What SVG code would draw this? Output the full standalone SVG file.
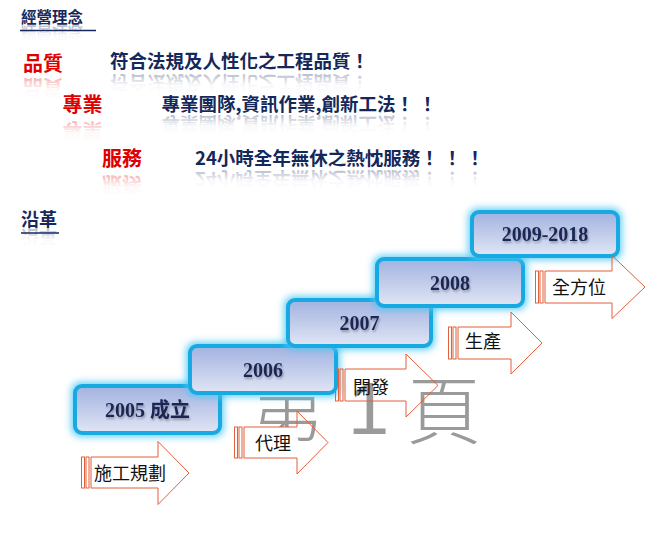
<svg xmlns="http://www.w3.org/2000/svg" width="666" height="533" viewBox="0 0 666 533">
<style>
.h{font-family:"Noto Sans CJK TC","Noto Sans CJK SC",sans-serif;font-weight:700;fill:#16285c}
.r{font-family:"Noto Sans CJK TC","Noto Sans CJK SC",sans-serif;font-weight:700;font-size:20px;fill:#e00000}
.n{font-family:"Noto Sans CJK TC","Noto Sans CJK SC",sans-serif;font-weight:700;font-size:18.5px;fill:#14285a}
.rr{font-family:"Noto Sans CJK TC","Noto Sans CJK SC",sans-serif;font-weight:700;font-size:20px;fill:url(#fadeR)}
.nr{font-family:"Noto Sans CJK TC","Noto Sans CJK SC",sans-serif;font-weight:700;font-size:18.5px;fill:url(#fadeN)}
.box{fill:url(#boxg);stroke:#18a9e2;stroke-width:4}
.bt{font-family:"Liberation Serif","Noto Sans CJK TC",serif;font-size:20px;font-weight:700;fill:#1b2655;text-anchor:middle}
.arr{fill:none;stroke:#e2603a;stroke-width:1}
.at{font-family:"Noto Sans CJK TC","Noto Sans CJK SC",sans-serif;font-size:18px;fill:#111}
.wm{font-family:"Noto Sans CJK TC","Noto Sans CJK SC",sans-serif;font-size:74px;font-weight:300;fill:#9a9a9a}
</style>
<defs>
<linearGradient id="fadeR" x1="0" y1="0" x2="0" y2="1">
<stop offset="0" stop-color="#e00000" stop-opacity="0"/>
<stop offset="0.45" stop-color="#e00000" stop-opacity="0.03"/>
<stop offset="1" stop-color="#e00000" stop-opacity="0.4"/>
</linearGradient>
<linearGradient id="fadeN" x1="0" y1="0" x2="0" y2="1">
<stop offset="0" stop-color="#14285a" stop-opacity="0"/>
<stop offset="0.45" stop-color="#14285a" stop-opacity="0.03"/>
<stop offset="1" stop-color="#14285a" stop-opacity="0.4"/>
</linearGradient>
<linearGradient id="boxg" x1="0" y1="0" x2="0" y2="1">
<stop offset="0" stop-color="#a2b2e0"/>
<stop offset="1" stop-color="#e1e6f5"/>
</linearGradient>
<filter id="glow" x="-20%" y="-40%" width="140%" height="180%">
<feMorphology in="SourceAlpha" operator="dilate" radius="1.5" result="d"/>
<feGaussianBlur in="d" stdDeviation="3.5" result="b"/>
<feFlood flood-color="#4cc8f2" flood-opacity="0.85"/>
<feComposite in2="b" operator="in" result="g"/>
<feMerge><feMergeNode in="g"/><feMergeNode in="SourceGraphic"/></feMerge>
</filter>
<filter id="ts" x="-10%" y="-30%" width="130%" height="170%">
<feGaussianBlur in="SourceAlpha" stdDeviation="0.8"/>
<feOffset dx="1" dy="2" result="o"/>
<feComponentTransfer in="o" result="s"><feFuncA type="linear" slope="0.3"/></feComponentTransfer>
<feMerge><feMergeNode in="s"/><feMergeNode in="SourceGraphic"/></feMerge>
</filter>
<mask id="wmMask" maskUnits="userSpaceOnUse" x="0" y="0" width="666" height="533">
<rect width="666" height="533" fill="#fff"/>
<rect x="244" y="427" width="53" height="31" fill="#000"/>
</mask>
</defs>
<rect width="666" height="533" fill="#fff"/>

<g id="header-philosophy">
<text class="h" x="21" y="23" font-size="15.5">經營理念</text>
<text class="h" x="21" y="23" font-size="15.5" style="fill:url(#fadeN)" transform="matrix(1,0,0,-1,0,50)">經營理念</text>
<line x1="20" y1="30.5" x2="96" y2="30.5" stroke="#16285c" stroke-width="1.5"/>
</g>

<g id="row-quality">
<text class="r" x="23" y="70.5">品質</text>
<text class="rr" x="23" y="70.5" transform="matrix(1,0,0,-1,0,150)">品質</text>
<text class="n" x="110" y="67.5">符合法規及人性化之工程品質！</text>
<text class="nr" x="110" y="67.5" transform="matrix(1,0,0,-1,0,143)">符合法規及人性化之工程品質！</text>
</g>

<g id="row-profession">
<text class="r" x="62.5" y="111.5">專業</text>
<text class="rr" x="62.5" y="111.5" transform="matrix(1,0,0,-1,0,234)">專業</text>
<text class="n" x="161.5" y="110.5">專業團隊,資訊作業,創新工法！ ！</text>
<text class="nr" x="161.5" y="110.5" transform="matrix(1,0,0,-1,0,227)">專業團隊,資訊作業,創新工法！ ！</text>
</g>

<g id="row-service">
<text class="r" x="102" y="165.5">服務</text>
<text class="rr" x="102" y="165.5" transform="matrix(1,0,0,-1,0,342)">服務</text>
<text class="n" x="195" y="164.5">24小時全年無休之熱忱服務！ ！ ！</text>
<text class="nr" x="195" y="164.5" transform="matrix(1,0,0,-1,0,336)">24小時全年無休之熱忱服務！ ！ ！</text>
</g>

<g id="header-history">
<text class="h" x="21" y="226" font-size="18">沿革</text>
<text class="h" x="21" y="226" font-size="18" style="fill:url(#fadeN)" transform="matrix(1,0,0,-1,0,456)">沿革</text>
<line x1="21" y1="233" x2="59" y2="233" stroke="#16285c" stroke-width="1.5"/>
</g>

<g id="watermark" mask="url(#wmMask)">
<text class="wm" x="250" y="438">第</text>
<text class="wm" x="348" y="434" style="font-family:'Liberation Sans',sans-serif;font-weight:400">1</text>
<text class="wm" x="407" y="438">頁</text>
</g>

<g id="box-2005" filter="url(#glow)">
<rect class="box" x="75" y="386" width="145" height="47" rx="7"/>
<text class="bt" x="147.5" y="417" filter="url(#ts)">2005 成立</text>
</g>
<g id="box-2006" filter="url(#glow)">
<rect class="box" x="190" y="346" width="146" height="47" rx="7"/>
<text class="bt" x="263" y="377" filter="url(#ts)">2006</text>
</g>
<g id="box-2007" filter="url(#glow)">
<rect class="box" x="288" y="300" width="143" height="46" rx="7"/>
<text class="bt" x="359.5" y="330" filter="url(#ts)">2007</text>
</g>
<g id="box-2008" filter="url(#glow)">
<rect class="box" x="377" y="259" width="146" height="47" rx="7"/>
<text class="bt" x="450" y="290" filter="url(#ts)">2008</text>
</g>
<g id="box-2009" filter="url(#glow)">
<rect class="box" x="472" y="212" width="146" height="44" rx="7"/>
<text class="bt" x="545" y="241" filter="url(#ts)">2009-2018</text>
</g>

<g id="connectors">
<g id="arrow-plan">
<rect class="arr" x="81.5" y="457" width="3" height="31"/>
<rect class="arr" x="86" y="457" width="3" height="31"/>
<path class="arr" d="M91,457 H158 V441.5 L189,473 L158,504.5 V488 H91 Z"/>
<text class="at" x="94" y="479.5">施工規劃</text>
</g>
<g id="arrow-agent">
<rect class="arr" x="234.5" y="427" width="3" height="31"/>
<rect class="arr" x="239" y="427" width="3" height="31"/>
<path class="arr" d="M244,427 H297 V411 L328,442.5 L297,474 V458 H244 Z"/>
<text class="at" x="255" y="449.5">代理</text>
</g>
<g id="arrow-develop">
<rect class="arr" x="335.5" y="369" width="3" height="32"/>
<rect class="arr" x="340" y="369" width="3" height="32"/>
<path class="arr" d="M345,369 H406 V354 L438,385.5 L406,417 V401 H345 Z"/>
<text class="at" x="353" y="393.5">開發</text>
</g>
<g id="arrow-produce">
<rect class="arr" x="448.5" y="327" width="3" height="32"/>
<rect class="arr" x="453" y="327" width="3" height="32"/>
<path class="arr" d="M458,327 H511 V312 L542,343 L511,374 V359 H458 Z"/>
<text class="at" x="465" y="347.5">生產</text>
</g>
<g id="arrow-full">
<rect class="arr" x="535.5" y="271" width="3" height="32"/>
<rect class="arr" x="540" y="271" width="3" height="32"/>
<path class="arr" d="M545,271 H612 V255.5 L645,287 L612,318.5 V303 H545 Z"/>
<text class="at" x="552" y="293.5">全方位</text>
</g>
</g>
</svg>
